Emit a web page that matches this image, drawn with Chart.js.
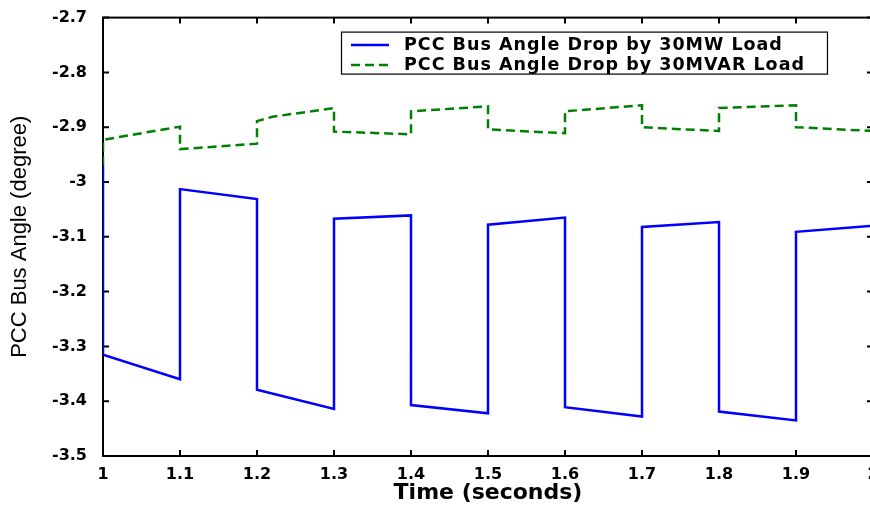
<!DOCTYPE html>
<html>
<head>
<meta charset="utf-8">
<script src="https://cdn.jsdelivr.net/npm/chart.js@4.4.0/dist/chart.umd.min.js"></script>
<style>
html, body { margin: 0; padding: 0; background: #fff; overflow: hidden; }
#cadre { position: absolute; left: 0; top: 0; }
</style>
</head>
<body>
<canvas id="cadre" width="900" height="508"></canvas>
<script>
// --- données (temps en s, angle en degrés) ---
const tempsMW = [1.0, 1.0, 1.1, 1.1, 1.2, 1.2, 1.3, 1.3, 1.4, 1.4, 1.5, 1.5, 1.6, 1.6, 1.7, 1.7, 1.8, 1.8, 1.9, 1.9, 2.0];
const angleMW = [-2.97, -3.315, -3.360, -3.013, -3.031, -3.379, -3.414, -3.067, -3.061, -3.407, -3.422, -3.078, -3.065, -3.411, -3.428, -3.082, -3.073, -3.419, -3.435, -3.091, -3.080];

const tempsMVAR = [1.0, 1.0, 1.1, 1.1, 1.2, 1.2, 1.22, 1.3, 1.3, 1.4, 1.4, 1.5, 1.5, 1.6, 1.6, 1.7, 1.7, 1.8, 1.8, 1.9, 1.9, 2.0];
const angleMVAR = [-2.97, -2.923, -2.899, -2.940, -2.930, -2.889, -2.881, -2.865, -2.908, -2.913, -2.871, -2.862, -2.904, -2.911, -2.871, -2.860, -2.900, -2.907, -2.865, -2.860, -2.900, -2.907];

const nomsSeries = ['PCC Bus Angle Drop by 30MW Load', 'PCC Bus Angle Drop by 30MVAR Load'];

const xTicks = [1, 1.1, 1.2, 1.3, 1.4, 1.5, 1.6, 1.7, 1.8, 1.9, 2];
const xTickLabels = ['1', '1.1', '1.2', '1.3', '1.4', '1.5', '1.6', '1.7', '1.8', '1.9', '2'];
const yTicks = [-3.5, -3.4, -3.3, -3.2, -3.1, -3, -2.9, -2.8, -2.7];
const yTickLabels = ['-3.5', '-3.4', '-3.3', '-3.2', '-3.1', '-3', '-2.9', '-2.8', '-2.7'];

const policeTicks = { family: '"DejaVu Sans"', size: 16, weight: 'bold' };

// cadre noir + graduations vers l'intérieur (style MATLAB)
const cadrePlugin = {
    id: 'cadrePlugin',
    beforeDatasetsDraw(chart) {
        const { ctx, chartArea: a, scales: { x, y } } = chart;
        ctx.save();
        ctx.strokeStyle = '#000';
        ctx.lineWidth = 2;
        ctx.strokeRect(a.left, a.top, a.right - a.left, a.bottom - a.top);
        ctx.beginPath();
        xTicks.forEach(v => {
            const px = x.getPixelForValue(v);
            ctx.moveTo(px, a.bottom); ctx.lineTo(px, a.bottom - 6);
            ctx.moveTo(px, a.top); ctx.lineTo(px, a.top + 6);
        });
        yTicks.forEach(v => {
            const py = y.getPixelForValue(v);
            ctx.moveTo(a.left, py); ctx.lineTo(a.left + 6, py);
            ctx.moveTo(a.right, py); ctx.lineTo(a.right - 6, py);
        });
        ctx.stroke();
        ctx.restore();
    }
};

// légende encadrée dans la zone du graphe
const legendePlugin = {
    id: 'legendePlugin',
    afterDatasetsDraw(chart) {
        const { ctx, chartArea: a } = chart;
        ctx.save();
        ctx.font = 'bold 17.5px "DejaVu Sans"';
        ctx.letterSpacing = '1px';
        const ds = chart.data.datasets;
        const textW = Math.max(...ds.map(d => ctx.measureText(d.label).width));
        const w = 10 + 38 + 15 + textW + 22;
        const h = 42;
        const right = a.right - 46;
        const left = Math.round(right - w);
        const top = a.top + 14;
        ctx.fillStyle = '#fff';
        ctx.fillRect(left, top, w, h);
        ctx.strokeStyle = '#000';
        ctx.lineWidth = 1.2;
        ctx.strokeRect(left + 0.5, top + 0.5, w, h);
        ds.forEach((d, i) => {
            const yy = top + 13.5 + i * 20;
            ctx.strokeStyle = d.borderColor;
            ctx.lineWidth = d.borderWidth;
            ctx.setLineDash(d.borderDash || []);
            ctx.beginPath();
            ctx.moveTo(left + 10, yy);
            ctx.lineTo(left + 48, yy);
            ctx.stroke();
            ctx.setLineDash([]);
            ctx.fillStyle = '#000';
            ctx.textBaseline = 'middle';
            ctx.fillText(d.label, left + 63, yy);
        });
        ctx.restore();
    }
};

new Chart(document.getElementById('cadre'), {
    type: 'line',
    data: {
        datasets: [
            {
                label: nomsSeries[0],
                data: tempsMW.map((t, i) => ({ x: t, y: angleMW[i] })),
                borderColor: '#0000ff',
                borderWidth: 2.5,
                pointRadius: 0,
                tension: 0,
                fill: false
            },
            {
                label: nomsSeries[1],
                data: tempsMVAR.map((t, i) => ({ x: t, y: angleMVAR[i] })),
                borderColor: '#008000',
                borderWidth: 2.5,
                borderDash: [9, 5],
                pointRadius: 0,
                tension: 0,
                fill: false
            }
        ]
    },
    options: {
        responsive: false,
        animation: false,
        devicePixelRatio: 1,
        layout: { padding: { top: 14, right: 27, bottom: 0, left: 0 } },
        plugins: { legend: { display: false }, tooltip: { enabled: false } },
        scales: {
            x: {
                type: 'linear',
                min: 1, max: 2,
                afterBuildTicks: s => { s.ticks = xTicks.map(v => ({ value: v })); },
                afterFit: s => { s.height = 52; },
                grid: { display: false },
                border: { display: false },
                ticks: {
                    callback: (v, i) => xTickLabels[i],
                    font: policeTicks, color: '#000', padding: 1,
                    maxRotation: 0, autoSkip: false
                },
                title: {
                    display: true, text: 'Time (seconds)', color: '#000',
                    font: { family: '"DejaVu Sans"', size: 22, weight: 'bold' },
                    padding: { top: 0, bottom: 2 }
                }
            },
            y: {
                type: 'linear',
                min: -3.5, max: -2.7,
                afterBuildTicks: s => { s.ticks = yTicks.map(v => ({ value: v })); },
                afterFit: s => { s.width = 103; },
                grid: { display: false },
                border: { display: false },
                ticks: {
                    callback: (v, i) => yTickLabels[i],
                    font: policeTicks, color: '#000', padding: 8,
                    autoSkip: false
                },
                title: {
                    display: true, text: 'PCC Bus Angle (degree)', color: '#000',
                    font: { family: '"Liberation Sans"', size: 22 },
                    padding: { top: 7, bottom: 0 }
                }
            }
        }
    },
    plugins: [cadrePlugin, legendePlugin]
});
</script>
</body>
</html>
